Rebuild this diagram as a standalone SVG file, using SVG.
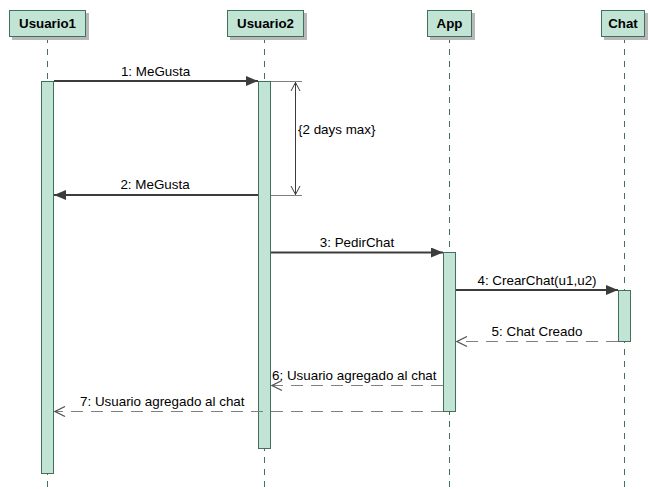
<svg xmlns="http://www.w3.org/2000/svg" width="650" height="489" viewBox="0 0 650 489">
  <style>
    .head { fill: #c2e4d5; stroke: #41705c; stroke-width: 1; }
    .shadow { fill: #b8b8b8; }
    .life { stroke: #41705c; stroke-width: 1; stroke-dasharray: 6 6; fill: none; }
    .act { fill: #c2e4d5; stroke: #41705c; stroke-width: 1; }
    .title { font-family: "Liberation Sans", Arial, sans-serif; font-size: 13.3px; font-weight: bold; fill: #000; text-anchor: middle; }
    .lbl { font-family: "Liberation Sans", Arial, sans-serif; font-size: 13.4px; fill: #000; }
    .msg { stroke: #3c3c3c; stroke-width: 2; fill: none; }
    .ret { stroke: #808080; stroke-width: 1.2; stroke-dasharray: 12 8; fill: none; }
    .cons { stroke: #808080; stroke-width: 1; fill: none; }
    .dim { stroke: #3c3c3c; stroke-width: 1; fill: none; }
  </style>
  <defs>
    <marker id="solid" viewBox="0 0 12 10" refX="12" refY="5" markerWidth="12" markerHeight="10" markerUnits="userSpaceOnUse" orient="auto">
      <path d="M0,0 L12,5 L0,10 Z" fill="#3c3c3c"/>
    </marker>
    <marker id="open" viewBox="0 0 12 12" refX="11" refY="6" markerWidth="12" markerHeight="12" markerUnits="userSpaceOnUse" orient="auto">
      <path d="M1,1 L11,6 L1,11" fill="none" stroke="#505050" stroke-width="1.2"/>
    </marker>
  </defs>
  <rect width="650" height="489" fill="#ffffff"/>

  <!-- lifelines -->
  <g id="lifelines">
    <line class="life" x1="47.5" y1="37" x2="47.5" y2="489"/>
    <line class="life" x1="264.5" y1="37" x2="264.5" y2="489"/>
    <line class="life" x1="449.5" y1="37" x2="449.5" y2="489"/>
    <line class="life" x1="624.5" y1="37" x2="624.5" y2="489"/>
  </g>

  <!-- participants -->
  <g id="usuario1">
    <rect class="shadow" x="12" y="13" width="77" height="27"/>
    <rect class="head" x="9.5" y="10.5" width="76" height="26"/>
    <text class="title" x="47.5" y="28">Usuario1</text>
    <rect class="act" x="41.5" y="81.5" width="12" height="392"/>
  </g>
  <g id="usuario2">
    <rect class="shadow" x="230" y="13" width="77" height="27"/>
    <rect class="head" x="227.5" y="10.5" width="76" height="26"/>
    <text class="title" x="265.5" y="28">Usuario2</text>
    <rect class="act" x="258.5" y="81.5" width="12" height="367"/>
  </g>
  <g id="app">
    <rect class="shadow" x="430" y="13" width="45" height="27"/>
    <rect class="head" x="427.5" y="10.5" width="44" height="26"/>
    <text class="title" x="449.5" y="28">App</text>
    <rect class="act" x="443.5" y="252.5" width="12" height="159"/>
  </g>
  <g id="chat">
    <rect class="shadow" x="604" y="13" width="44" height="27"/>
    <rect class="head" x="601.5" y="10.5" width="43" height="26"/>
    <text class="title" x="623" y="28">Chat</text>
    <rect class="act" x="618.5" y="290.5" width="12" height="51"/>
  </g>

  <!-- messages -->
  <g id="connectors">
    <line class="msg" x1="54" y1="81" x2="258" y2="81" marker-end="url(#solid)"/>
    <text class="lbl" x="155.5" y="76" text-anchor="middle">1: MeGusta</text>

    <line class="msg" x1="258" y1="195" x2="54" y2="195" marker-end="url(#solid)"/>
    <text class="lbl" x="155" y="189" text-anchor="middle">2: MeGusta</text>

    <!-- duration constraint -->
    <line class="cons" x1="271" y1="81.5" x2="302" y2="81.5"/>
    <line class="cons" x1="271" y1="195.5" x2="302" y2="195.5"/>
    <line class="dim" x1="295.5" y1="82" x2="295.5" y2="195"/>
    <path class="dim" d="M291,91 L295.5,82.5 L300,91"/>
    <path class="dim" d="M291,186 L295.5,194.5 L300,186"/>
    <text class="lbl" x="298" y="134">{2 days max}</text>

    <line class="msg" x1="271" y1="252.5" x2="443" y2="252.5" marker-end="url(#solid)"/>
    <text class="lbl" x="357" y="247" text-anchor="middle">3: PedirChat</text>

    <line class="msg" x1="456" y1="290" x2="618" y2="290" marker-end="url(#solid)"/>
    <text class="lbl" x="537" y="285" text-anchor="middle">4: CrearChat(u1,u2)</text>

    <line class="ret" x1="618" y1="341.5" x2="457" y2="341.5" marker-end="url(#open)"/>
    <text class="lbl" x="537" y="336" text-anchor="middle">5: Chat Creado</text>

    <line class="ret" x1="443" y1="385.5" x2="272" y2="385.5" marker-end="url(#open)"/>
    <text class="lbl" x="272" y="380">6: Usuario agregado al chat</text>

    <line class="ret" x1="443" y1="411.5" x2="55" y2="411.5" marker-end="url(#open)"/>
    <text class="lbl" x="80" y="406">7: Usuario agregado al chat</text>
  </g>
</svg>
